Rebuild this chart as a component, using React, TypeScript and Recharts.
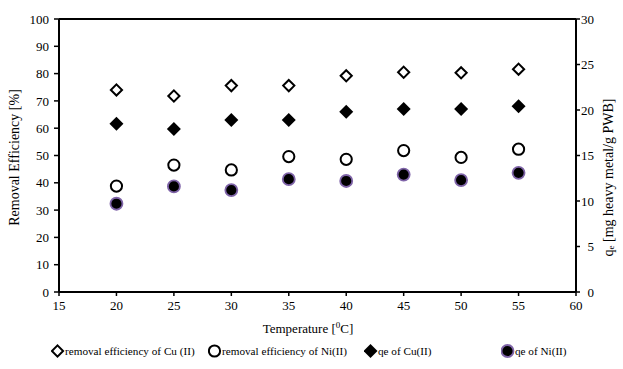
import React from "react";
import {
  ComposedChart,
  Scatter,
  XAxis,
  YAxis,
  Label,
  Legend,
  ReferenceLine,
} from "recharts";

const temperatures = [20, 25, 30, 35, 40, 45, 50, 55];
const removalCu = [74.0, 71.8, 75.6, 75.6, 79.2, 80.5, 80.3, 81.6];
const removalNi = [38.8, 46.5, 44.7, 49.6, 48.6, 51.8, 49.3, 52.3];
const qeCu = [18.5, 17.9, 18.9, 18.9, 19.8, 20.1, 20.1, 20.4];
const qeNi = [9.7, 11.6, 11.2, 12.4, 12.2, 12.9, 12.3, 13.1];

const xTicks = [15, 20, 25, 30, 35, 40, 45, 50, 55, 60];
const leftTicks = [0, 10, 20, 30, 40, 50, 60, 70, 80, 90, 100];
const rightTicks = [0, 5, 10, 15, 20, 25, 30];

const legendLabels = [
  "removal efficiency of Cu (II)",
  "removal efficiency of Ni(II)",
  "qe of Cu(II)",
  "qe of Ni(II)",
];

const toPoints = (values: number[]) =>
  temperatures.map((t, i) => ({ x: t, y: values[i] }));

const PURPLE = "#7F64A8";
const FONT = "'Liberation Serif', 'Times New Roman', serif";

const openDiamond = (props: any) => {
  const { cx, cy } = props;
  const r = 5.6;
  return (
    <path
      d={`M${cx},${cy - r}L${cx + r},${cy}L${cx},${cy + r}L${cx - r},${cy}Z`}
      fill="#fff"
      stroke="#000"
      strokeWidth={2}
    />
  );
};

const filledDiamond = (props: any) => {
  const { cx, cy } = props;
  const r = 7;
  return (
    <path
      d={`M${cx},${cy - r}L${cx + r},${cy}L${cx},${cy + r}L${cx - r},${cy}Z`}
      fill="#000"
    />
  );
};

const openCircle = (props: any) => (
  <circle cx={props.cx} cy={props.cy} r={5.6} fill="#fff" stroke="#000" strokeWidth={2} />
);

const purpleCircle = (props: any) => (
  <circle cx={props.cx} cy={props.cy} r={6} fill="#000" stroke={PURPLE} strokeWidth={1.8} />
);

const legendItems = [
  { left: 51, shape: openDiamond },
  { left: 208, shape: openCircle },
  { left: 364, shape: filledDiamond },
  { left: 501, shape: purpleCircle },
];

function LegendContent() {
  return (
    <div style={{ position: "relative", width: 623, height: 30 }}>
      {legendItems.map((item, i) => (
        <div
          key={legendLabels[i]}
          style={{
            position: "absolute",
            left: item.left,
            top: 8,
            display: "flex",
            alignItems: "center",
            fontFamily: FONT,
            fontSize: 11.2,
            color: "#000",
            whiteSpace: "nowrap",
          }}
        >
          <svg width={15} height={16}>
            {item.shape({ cx: 6.5, cy: 8 })}
          </svg>
          <span style={{ marginLeft: -1 }}>{legendLabels[i]}</span>
        </div>
      ))}
    </div>
  );
}

const RightTick = (props: any) => {
  const { x, y, payload } = props;
  return (
    <text
      x={x + 10}
      y={y}
      textAnchor="end"
      dominantBaseline="central"
      fontFamily={FONT}
      fontSize={13}
      fill="#000"
    >
      {payload.value}
    </text>
  );
};

export default function App() {
  return (
    <div style={{ position: "absolute", left: 0, top: 0 }}>
      <ComposedChart
        width={623}
        height={369}
        margin={{ top: 19, right: 0, bottom: 4, left: 0 }}
      >
        <XAxis
          dataKey="x"
          type="number"
          domain={[15, 60]}
          ticks={xTicks}
          interval={0}
          axisLine={{ stroke: "#000", strokeWidth: 2 }}
          tickLine={{ stroke: "#000", strokeWidth: 1.5 }}
          tickSize={4}
          tickMargin={5}
          height={43}
          tick={{ fill: "#000", fontSize: 13, fontFamily: FONT }}
        >
          <Label
            content={(props: any) => {
              const vb = props.viewBox;
              return (
                <text
                  x={vb.x + vb.width / 2 - 9.5}
                  y={vb.y + 41}
                  textAnchor="middle"
                  fontFamily={FONT}
                  fontSize={13}
                  fill="#000"
                >
                  Temperature [<tspan fontSize={9} dy={-5}>0</tspan>
                  <tspan dy={5}>C]</tspan>
                </text>
              );
            }}
          />
        </XAxis>
        <YAxis
          yAxisId="left"
          dataKey="y"
          type="number"
          domain={[0, 100]}
          ticks={leftTicks}
          interval={0}
          width={59}
          axisLine={{ stroke: "#000", strokeWidth: 2 }}
          tickLine={{ stroke: "#000", strokeWidth: 1.5 }}
          tickSize={5}
          tickMargin={5}
          tick={{ fill: "#000", fontSize: 13, fontFamily: FONT }}
        >
          <Label
            content={(props: any) => {
              const vb = props.viewBox;
              const x = vb.x + 14;
              const y = vb.y + vb.height / 2 + 2;
              return (
                <text
                  x={x}
                  y={y}
                  transform={`rotate(-90, ${x}, ${y})`}
                  textAnchor="middle"
                  dominantBaseline="central"
                  fontFamily={FONT}
                  fontSize={14}
                  fill="#000"
                >
                  Removal Efficiency [%]
                </text>
              );
            }}
          />
        </YAxis>
        <YAxis
          yAxisId="right"
          orientation="right"
          dataKey="y"
          type="number"
          domain={[0, 30]}
          ticks={rightTicks}
          interval={0}
          width={47}
          axisLine={{ stroke: "#000", strokeWidth: 2 }}
          tickLine={{ stroke: "#000", strokeWidth: 1.5 }}
          tickSize={4}
          tickMargin={4}
          tick={<RightTick />}
        >
          <Label
            content={(props: any) => {
              const vb = props.viewBox;
              const x = vb.x + 32;
              const y = vb.y + vb.height / 2 + 22;
              return (
                <text
                  x={x}
                  y={y}
                  transform={`rotate(-90, ${x}, ${y})`}
                  textAnchor="middle"
                  dominantBaseline="central"
                  fontFamily={FONT}
                  fontSize={14}
                  fill="#000"
                >
                  q<tspan fontSize={9} dy={3}>e</tspan>
                  <tspan dy={-3}> [mg heavy metal/g PWB]</tspan>
                </text>
              );
            }}
          />
        </YAxis>

        <ReferenceLine yAxisId="left" y={100} stroke="#000" strokeWidth={2} />

        <Scatter
          name={legendLabels[0]}
          yAxisId="left"
          data={toPoints(removalCu)}
          dataKey="y"
          shape={openDiamond}
          isAnimationActive={false}
        />
        <Scatter
          name={legendLabels[1]}
          yAxisId="left"
          data={toPoints(removalNi)}
          dataKey="y"
          shape={openCircle}
          isAnimationActive={false}
        />
        <Scatter
          name={legendLabels[2]}
          yAxisId="right"
          data={toPoints(qeCu)}
          dataKey="y"
          shape={filledDiamond}
          isAnimationActive={false}
        />
        <Scatter
          name={legendLabels[3]}
          yAxisId="right"
          data={toPoints(qeNi)}
          dataKey="y"
          shape={purpleCircle}
          isAnimationActive={false}
        />

        <Legend
          verticalAlign="bottom"
          height={30}
          content={() => <LegendContent />}
          wrapperStyle={{ left: 0, width: 623 }}
        />
      </ComposedChart>
    </div>
  );
}
